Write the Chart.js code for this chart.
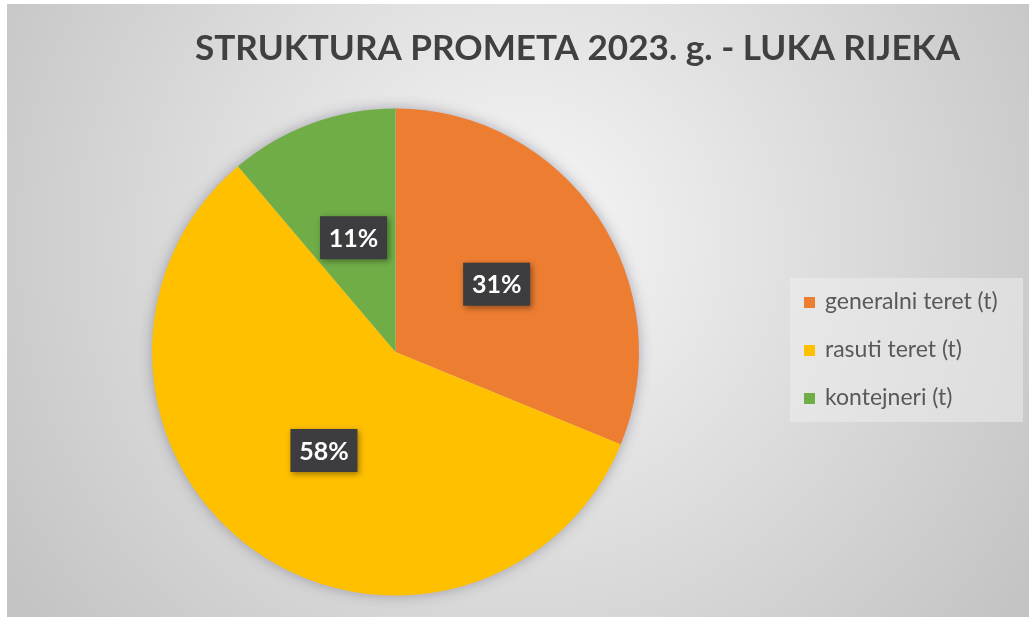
<!DOCTYPE html>
<html lang="hr">
<head>
    <meta charset="UTF-8">
    <title>Struktura prometa 2023. - Luka Rijeka</title>
    <style>
        html, body {
            margin: 0;
            padding: 0;
            background: #fff;
        }
        #wrap {
            width: 1029px;
            height: 617px;
        }
    </style>
</head>
<body>
    <div id="wrap">
        <canvas id="pieChart" width="1029" height="617"></canvas>
    </div>

    <script src="https://cdn.jsdelivr.net/npm/chart.js@4"></script>
    <script>
        // --- data (share of total, %) ---
        const categories = ['generalni teret (t)', 'rasuti teret (t)', 'kontejneri (t)'];
        const shares = [31.2, 57.6, 11.2];
        const sliceColors = ['#ED7D31', '#FFC000', '#70AD47'];
        const chartTitle = 'STRUKTURA PROMETA 2023. g. - LUKA RIJEKA';

        // background: white strip left/top, then a soft radial grey gradient
        const backgroundPlugin = {
            id: 'bg',
            beforeDraw(chart) {
                const ctx = chart.ctx;
                const w = chart.width, h = chart.height;
                ctx.save();
                ctx.fillStyle = '#ffffff';
                ctx.fillRect(0, 0, w, h);
                const g = ctx.createRadialGradient(520, 240, 0, 520, 240, 620);
                g.addColorStop(0, '#f7f7f7');
                g.addColorStop(0.4, '#e2e2e2');
                g.addColorStop(1, '#c3c3c3');
                ctx.fillStyle = g;
                ctx.fillRect(7, 4, w - 7, h - 4);
                ctx.restore();
            }
        };

        // soft shadow behind the whole pie
        const pieShadow = {
            id: 'pieShadow',
            beforeDatasetsDraw(chart) {
                const arc = chart.getDatasetMeta(0).data[0];
                if (!arc) return;
                const ctx = chart.ctx;
                ctx.save();
                ctx.shadowColor = 'rgba(60, 60, 90, 0.45)';
                ctx.shadowBlur = 14;
                ctx.fillStyle = '#d0d0d0';
                ctx.beginPath();
                ctx.arc(arc.x, arc.y, arc.outerRadius - 1, 0, Math.PI * 2);
                ctx.fill();
                ctx.restore();
            }
        };

        // dark percentage boxes in the middle of each slice
        const sliceLabels = {
            id: 'sliceLabels',
            afterDatasetsDraw(chart) {
                const ctx = chart.ctx;
                const values = chart.data.datasets[0].data;
                const total = values.reduce((a, b) => a + b, 0);
                chart.getDatasetMeta(0).data.forEach((arc, i) => {
                    const p = arc.getCenterPoint();
                    const txt = Math.round(values[i] / total * 100) + '%';
                    const bw = 67, bh = 43;
                    ctx.save();
                    ctx.shadowColor = 'rgba(0, 0, 0, 0.4)';
                    ctx.shadowBlur = 6;
                    ctx.shadowOffsetX = 2;
                    ctx.shadowOffsetY = 2;
                    ctx.fillStyle = '#3d3d40';
                    ctx.fillRect(p.x - bw / 2, p.y - bh / 2, bw, bh);
                    ctx.restore();
                    ctx.save();
                    ctx.fillStyle = '#ffffff';
                    ctx.font = 'bold 25px Lato, "Open Sans", sans-serif';
                    ctx.textAlign = 'center';
                    ctx.textBaseline = 'middle';
                    ctx.fillText(txt, p.x, p.y + 1);
                    ctx.restore();
                });
            }
        };

        // title and legend drawn at the spots they have in the picture
        const titleAndLegend = {
            id: 'titleAndLegend',
            afterDraw(chart) {
                const ctx = chart.ctx;
                ctx.save();
                ctx.font = 'bold 35px Lato, "Open Sans", sans-serif';
                ctx.fillStyle = '#404040';
                ctx.textBaseline = 'alphabetic';
                const tw = ctx.measureText(chartTitle).width;
                const sx = 765 / tw;
                ctx.translate(195, 60);
                ctx.scale(sx, 1);
                ctx.fillText(chartTitle, 0, 0);
                ctx.restore();

                // legend box
                ctx.save();
                ctx.fillStyle = 'rgba(240, 240, 240, 0.5)';
                ctx.fillRect(790, 278, 233, 144);
                const labels = chart.data.labels;
                const colors = chart.data.datasets[0].backgroundColor;
                ctx.font = '23px Lato, "Open Sans", sans-serif';
                ctx.textBaseline = 'middle';
                const lw = ctx.measureText(labels[0]).width;
                const lsx = Math.min(1, 186 / lw);
                labels.forEach((lab, i) => {
                    const y = 302 + i * 48;
                    ctx.fillStyle = colors[i];
                    ctx.fillRect(804, y - 5, 11, 11);
                    ctx.save();
                    ctx.fillStyle = '#595959';
                    ctx.translate(825, y);
                    ctx.scale(lsx, 1);
                    ctx.fillText(lab, 0, 0);
                    ctx.restore();
                });
                ctx.restore();
            }
        };

        const ctx = document.getElementById('pieChart').getContext('2d');
        const pieChart = new Chart(ctx, {
            type: 'pie',
            data: {
                labels: categories,
                datasets: [{
                    data: shares,
                    backgroundColor: sliceColors,
                    borderWidth: 0
                }]
            },
            options: {
                responsive: false,
                animation: false,
                devicePixelRatio: 1,
                layout: {
                    padding: { left: 152, right: 390, top: 108, bottom: 21 }
                },
                plugins: {
                    legend: { display: false },
                    title: { display: false },
                    tooltip: { enabled: false }
                }
            },
            plugins: [backgroundPlugin, pieShadow, sliceLabels, titleAndLegend]
        });
    </script>
</body>
</html>
